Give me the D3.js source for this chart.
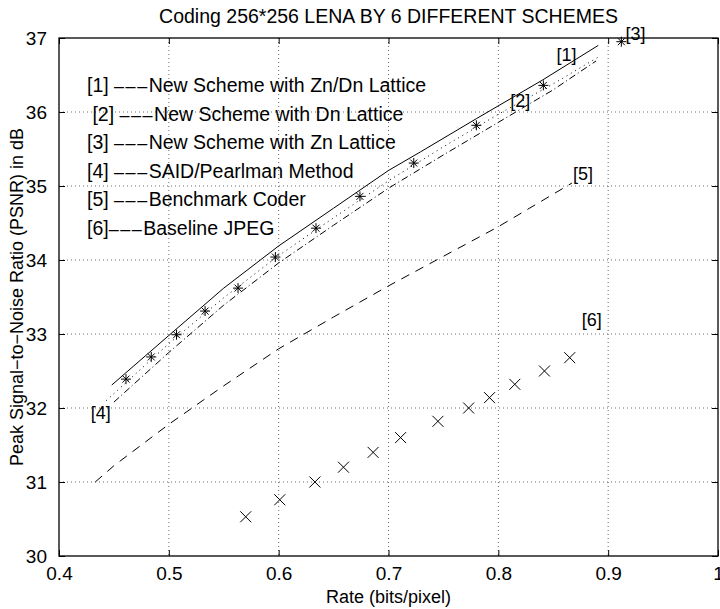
<!DOCTYPE html>
<html>
<head>
<meta charset="utf-8">
<script src="https://cdn.jsdelivr.net/npm/d3@7"></script>
<style>
  body { margin: 0; background: #fff; }
  svg text { font-family: "Liberation Sans", Arial, sans-serif; fill: #000; }
</style>
</head>
<body>
<div id="chart" style="width:720px;height:609px"></div>
<script>
// [1] New Scheme with Zn/Dn Lattice (solid)
const rate1 = [0.448, 0.5, 0.55, 0.6, 0.65, 0.7, 0.729, 0.78, 0.84, 0.891];
const psnr1 = [32.31, 32.98, 33.62, 34.19, 34.70, 35.21, 35.46, 35.91, 36.43, 36.9];
// [2] New Scheme with Dn Lattice (dash-dot)
const rate2 = [0.45, 0.5, 0.55, 0.6, 0.65, 0.7, 0.75, 0.8, 0.85, 0.889];
const psnr2 = [32.08, 32.75, 33.39, 33.96, 34.47, 34.97, 35.42, 35.86, 36.3, 36.69];
// [3] New Scheme with Zn Lattice (asterisks)
const rate3 = [0.461, 0.484, 0.507, 0.533, 0.563, 0.597, 0.634, 0.674, 0.723, 0.780, 0.841, 0.912];
const psnr3 = [32.39, 32.69, 32.99, 33.31, 33.62, 34.04, 34.43, 34.86, 35.31, 35.82, 36.36, 36.95];
// [4] SAID/Pearlman Method (dotted)
const rate4 = [0.443, 0.46, 0.5, 0.55, 0.6, 0.65, 0.7, 0.75, 0.8, 0.85, 0.893];
const psnr4 = [32.1, 32.33, 32.87, 33.49, 34.06, 34.57, 35.07, 35.53, 35.97, 36.38, 36.76];
// [5] Benchmark Coder (dashed)
const rate5 = [0.433, 0.45, 0.5, 0.55, 0.6, 0.65, 0.7, 0.75, 0.8, 0.867];
const psnr5 = [31.0, 31.22, 31.78, 32.3, 32.8, 33.23, 33.65, 34.05, 34.45, 35.04];
// [6] Baseline JPEG (x markers)
const rate6 = [0.570, 0.601, 0.633, 0.659, 0.686, 0.711, 0.745, 0.773, 0.792, 0.815, 0.842, 0.865];
const psnr6 = [30.53, 30.76, 31.0, 31.2, 31.4, 31.6, 31.82, 32.0, 32.14, 32.32, 32.5, 32.68];

const xTicks = [0.4, 0.5, 0.6, 0.7, 0.8, 0.9, 1];
const yTicks = [30, 31, 32, 33, 34, 35, 36, 37];

const legendTags = ["[1] ", " [2] ", "[3] ", "[4] ", "[5] ", "[6]"];
const legendNames = [
  "New Scheme with Zn/Dn Lattice",
  "New Scheme with Dn Lattice",
  "New Scheme with Zn Lattice",
  "SAID/Pearlman Method",
  "Benchmark Coder",
  "Baseline JPEG"
];
const legendDash = "\u2013\u2013\u2013";

const tagText = ["[1]", "[2]", "[3]", "[4]", "[5]", "[6]"];
const tagRate = [0.862, 0.82, 0.925, 0.438, 0.877, 0.885];
const tagPsnr = [36.77, 36.15, 37.06, 31.93, 35.17, 33.2];

const titleText = "Coding 256*256 LENA BY 6 DIFFERENT SCHEMES";
const xLabel = "Rate (bits/pixel)";
const yLabel = "Peak Signal\u2212to\u2212Noise Ratio (PSNR) in dB";

const margin = {top: 38, right: 2, bottom: 53, left: 59};
const width = 720 - margin.left - margin.right;
const height = 609 - margin.top - margin.bottom;

const svg = d3.select("#chart").append("svg")
  .attr("width", 720).attr("height", 609);

const chart = svg.append("g")
  .attr("transform", "translate(" + margin.left + "," + margin.top + ")");

const x = d3.scaleLinear().domain([0.4, 1]).range([0, width]);
const y = d3.scaleLinear().domain([30, 37]).range([height, 0]);

// grid
chart.append("g").selectAll("line").data(xTicks.slice(1, -1)).join("line")
  .attr("x1", d => x(d)).attr("x2", d => x(d))
  .attr("y1", 0).attr("y2", height)
  .attr("stroke", "#444").attr("stroke-width", 0.8).attr("stroke-dasharray", "1,3");
chart.append("g").selectAll("line").data(yTicks.slice(1, -1)).join("line")
  .attr("y1", d => y(d)).attr("y2", d => y(d))
  .attr("x1", 0).attr("x2", width)
  .attr("stroke", "#444").attr("stroke-width", 0.8).attr("stroke-dasharray", "1,3");

// axes, ticks pointing inward on all four sides
const fmtX = d => d === 1 ? "1" : d3.format(".1f")(d);
const axB = chart.append("g").attr("transform", "translate(0," + height + ")")
  .call(d3.axisBottom(x).tickValues(xTicks).tickFormat(fmtX).tickSizeInner(-6).tickSizeOuter(0).tickPadding(11));
const axT = chart.append("g")
  .call(d3.axisTop(x).tickValues(xTicks).tickFormat("").tickSizeInner(-6).tickSizeOuter(0));
const axL = chart.append("g")
  .call(d3.axisLeft(y).tickValues(yTicks).tickFormat(d3.format("d")).tickSizeInner(-6).tickSizeOuter(0).tickPadding(12));
const axR = chart.append("g").attr("transform", "translate(" + width + ",0)")
  .call(d3.axisRight(y).tickValues(yTicks).tickFormat("").tickSizeInner(-6).tickSizeOuter(0));
[axB, axT, axL, axR].forEach(a => {
  a.select(".domain").remove();
  a.selectAll("line").attr("stroke", "#000");
  a.selectAll("text").style("font-size", "19px").attr("fill", "#000");
});
axB.selectAll("text").attr("dy", "0.71em");

chart.append("rect").attr("width", width).attr("height", height)
  .attr("fill", "none").attr("stroke", "#000").attr("stroke-width", 1.3);

// series lines
const line = d3.line().x(d => x(d[0])).y(d => y(d[1]));
const zip = (a, b) => a.map((v, i) => [v, b[i]]);

chart.append("path").datum(zip(rate1, psnr1)).attr("d", line)
  .attr("fill", "none").attr("stroke", "#000").attr("stroke-width", 1);
chart.append("path").datum(zip(rate2, psnr2)).attr("d", line)
  .attr("fill", "none").attr("stroke", "#000").attr("stroke-width", 1)
  .attr("stroke-dasharray", "7,3,1,3");
chart.append("path").datum(zip(rate4, psnr4)).attr("d", line)
  .attr("fill", "none").attr("stroke", "#000").attr("stroke-width", 1)
  .attr("stroke-dasharray", "1,4");
chart.append("path").datum(zip(rate5, psnr5)).attr("d", line)
  .attr("fill", "none").attr("stroke", "#000").attr("stroke-width", 1)
  .attr("stroke-dasharray", "9,7");

// asterisk markers
const ms = 5;
const star = chart.append("g").selectAll("g").data(zip(rate3, psnr3)).join("g")
  .attr("transform", d => "translate(" + x(d[0]) + "," + y(d[1]) + ")");
star.append("path")
  .attr("d", "M" + (-ms) + ",0H" + ms + "M0," + (-ms) + "V" + ms +
    "M" + (-ms * 0.7) + "," + (-ms * 0.7) + "L" + (ms * 0.7) + "," + (ms * 0.7) +
    "M" + (-ms * 0.7) + "," + (ms * 0.7) + "L" + (ms * 0.7) + "," + (-ms * 0.7))
  .attr("stroke", "#000").attr("stroke-width", 1);

// x markers
const xm = 5.5;
chart.append("g").selectAll("path").data(zip(rate6, psnr6)).join("path")
  .attr("transform", d => "translate(" + x(d[0]) + "," + y(d[1]) + ")")
  .attr("d", "M" + (-xm) + "," + (-xm) + "L" + xm + "," + xm + "M" + (-xm) + "," + xm + "L" + xm + "," + (-xm))
  .attr("stroke", "#000").attr("stroke-width", 1);

// curve tags
chart.append("g").selectAll("text").data(tagText).join("text")
  .attr("x", (d, i) => x(tagRate[i])).attr("y", (d, i) => y(tagPsnr[i]))
  .attr("text-anchor", "middle").attr("dy", "0.35em")
  .style("font-size", "18px")
  .text(d => d);

// legend text block
const leg = chart.append("g").selectAll("text").data(legendNames).join("text")
  .attr("x", 28).attr("y", (d, i) => 54 + i * 28.6)
  .attr("xml:space", "preserve")
  .style("font-size", "19.5px");
leg.append("tspan").text((d, i) => legendTags[i]);
leg.append("tspan").style("font-size", "18px").style("letter-spacing", "1.5px").text(legendDash);
leg.append("tspan").text(d => d);

// title and axis labels
svg.append("text").attr("x", margin.left + width / 2).attr("y", 23)
  .attr("text-anchor", "middle").style("font-size", "19.5px").text(titleText);
svg.append("text").attr("x", margin.left + width / 2).attr("y", 603)
  .attr("text-anchor", "middle").style("font-size", "18px").text(xLabel);
svg.append("text")
  .attr("transform", "translate(23," + (margin.top + height / 2) + ") rotate(-90)")
  .attr("text-anchor", "middle").style("font-size", "18px").text(yLabel);
</script>
</body>
</html>
